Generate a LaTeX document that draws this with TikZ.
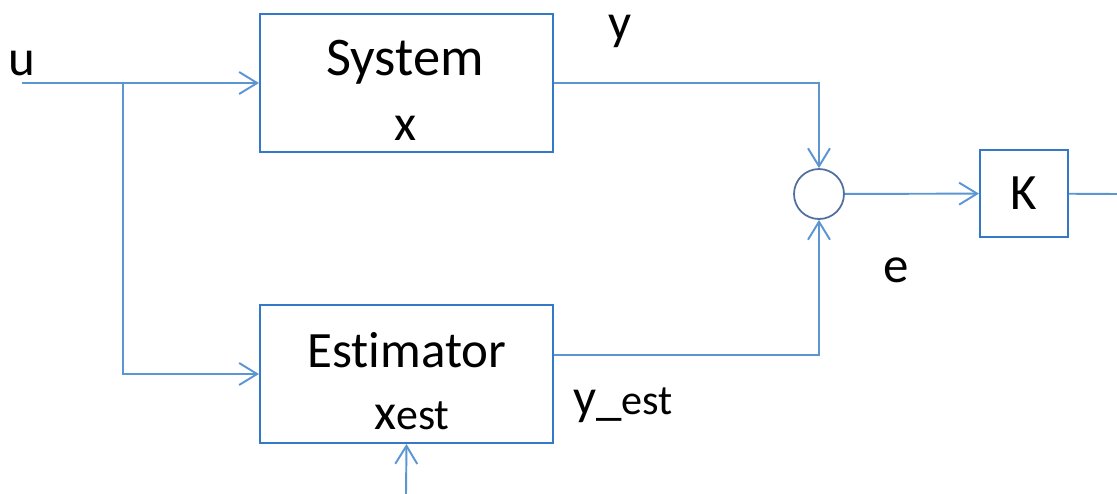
\documentclass[tikz,border=0pt]{standalone}
\usepackage{fontspec}
\setmainfont{Carlito}[Ligatures=NoCommon]
\usetikzlibrary{arrows.meta,positioning,calc}
\definecolor{lineblue}{RGB}{91,150,210}
\definecolor{boxblue}{RGB}{52,120,200}
\definecolor{sumblue}{RGB}{80,110,160}

\begin{document}
\begin{tikzpicture}[x=0.02cm,y=-0.02cm,
  block/.style={draw=boxblue,line width=1.2pt,minimum width=5.86cm,minimum height=2.76cm},
  gain/.style={draw=boxblue,line width=1.2pt,minimum width=1.76cm,minimum height=1.74cm,inner sep=0pt},
  sum/.style={circle,draw=sumblue,line width=1pt,minimum size=1cm,inner sep=0pt},
  sig/.style={draw=lineblue,line width=1.1pt},
  tip/.style={-{Straight Barb[length=3.6mm,width=4.4mm]}},
  txt/.style={font=\fontsize{29}{34}\selectfont,inner sep=0pt}]
\useasboundingbox (0,0) rectangle (1117,494);
% blocks
\node[block] (sys) at (406.5,83) {};
\node[block] (est) at (406.5,374) {};
\node[sum] (s) at (819,194) {};
\node[gain,txt] (K) at (1024,193.5) {K};
% texts
\node[txt,anchor=base,font=\fontsize{31}{36}\selectfont] (systxt) at (405,75) {System};
\node[txt,anchor=base] (xtxt) at (406,140) {x};
\node[txt,anchor=base] (esttxt) at (407,367) {Estimator};
\node[txt,anchor=base] (xesttxt) at (412,429) {x{\fontsize{25}{30}\selectfont est}};
\node[txt,anchor=base] (u) at (22,75) {u};
\node[txt,anchor=base] (y) at (620,39) {y};
\node[txt,anchor=base] (e) at (896,282) {e};
\node[txt,anchor=base west] (yest) at (573,414) {y\_{\fontsize{24}{28}\selectfont est}};
% free ends
\coordinate (in) at (22,83);
\coordinate (br) at (123,83);
\coordinate (xin) at (406,494);
\coordinate (out) at (1117,194);
% signals
\path[sig,tip]
(in) edge (sys)
(xin) edge (est.south)
(s) edge (K)
;
\draw[sig,tip] (br) |- (est.west);
\draw[sig,tip] (sys.east) -| (s.north);
\draw[sig,tip] ([yshift=0.38cm]est.east) -| (s.south);
\draw[sig] (K) -- (out);
\end{tikzpicture}
\end{document}
